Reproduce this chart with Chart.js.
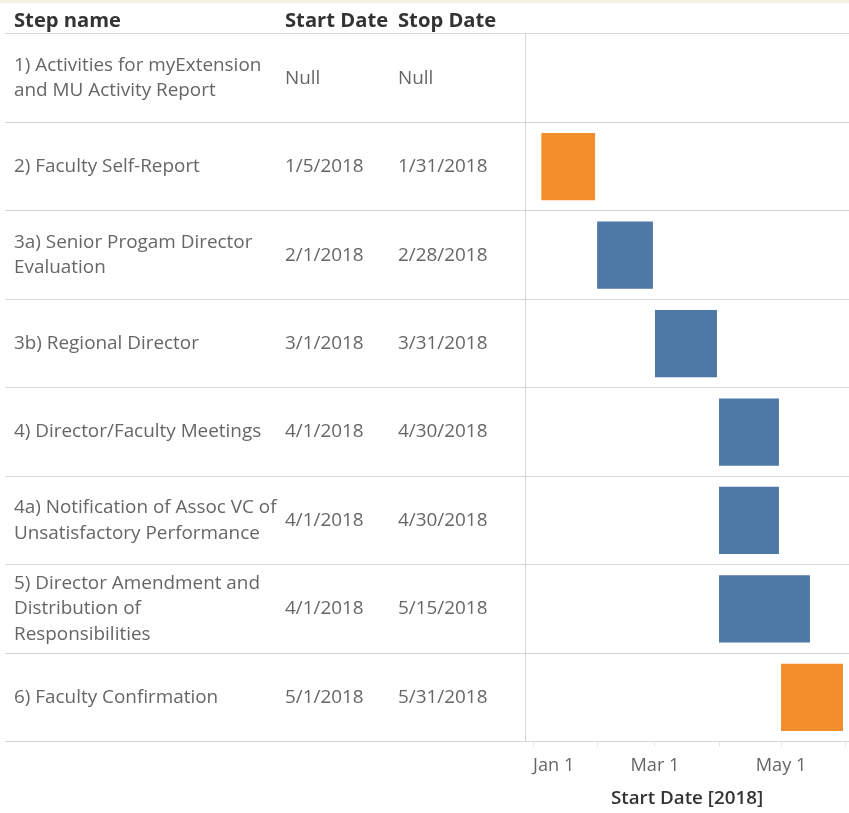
<!DOCTYPE html>
<html>
<head>
<meta charset="utf-8">
<script src="https://cdn.jsdelivr.net/npm/chart.js@4.4.0/dist/chart.umd.min.js"></script>
<style>
  html, body { margin: 0; padding: 0; background: #ffffff; }
  #wrap { position: relative; width: 849px; height: 813px; }
  #topstrip { position: absolute; left: 0; top: 0; width: 849px; height: 3px; background: #f7efe1; }
  canvas { display: block; }
</style>
</head>
<body>
<div id="wrap">
  <canvas id="c" width="849" height="813"></canvas>
  <div id="topstrip"></div>
</div>
<script>
// ---------------- DATA ----------------
const headers = ["Step name", "Start Date", "Stop Date"];

const stepNames = [
  ["1) Activities for myExtension", "and MU Activity Report"],
  "2) Faculty Self-Report",
  ["3a) Senior Progam Director", "Evaluation"],
  "3b) Regional Director",
  "4) Director/Faculty Meetings",
  ["4a) Notification of Assoc VC of", "Unsatisfactory Performance"],
  ["5) Director Amendment and", "Distribution of", "Responsibilities"],
  "6) Faculty Confirmation"
];

const startDates = ["Null", "1/5/2018", "2/1/2018", "3/1/2018", "4/1/2018", "4/1/2018", "4/1/2018", "5/1/2018"];
const stopDates  = ["Null", "1/31/2018", "2/28/2018", "3/31/2018", "4/30/2018", "4/30/2018", "5/15/2018", "5/31/2018"];

const stepOwner = ["", "Faculty", "Director", "Director", "Director", "Director", "Director", "Faculty"];

const xTickDates  = ["1/1/2018", "2/1/2018", "3/1/2018", "4/1/2018", "5/1/2018", "6/1/2018"];
const xTickLabels = ["Jan 1", "", "Mar 1", "", "May 1", ""];
const xAxisTitle  = "Start Date [2018]";

// ---------------- STYLE ----------------
const ownerColors = { Faculty: "#f28e2b", Director: "#4e79a7", "": "rgba(0,0,0,0)" };
const FAMILY = "'Open Sans', 'Noto Sans', sans-serif";
const gridColor = "#d6d6d6";

// helpers
function toDay(s) {
  if (!s || s === "Null") return null;
  const [m, d, y] = s.split("/").map(Number);
  return (Date.UTC(y, m - 1, d) - Date.UTC(2018, 0, 1)) / 86400000;
}
const mctx = document.createElement("canvas").getContext("2d");
function fitSize(text, target, weight) {
  mctx.font = weight + " 100px " + FAMILY;
  return Math.round(100 * target / mctx.measureText(text).width * 10) / 10;
}
const bodySize   = fitSize("2) Faculty Self-Report", 186, "normal");
const headSize   = fitSize("Step name", 107, "bold");
const tickSize   = fitSize("Mar 1", 49, "normal");
const titleSize  = fitSize(xAxisTitle, 152, "600");

const barData = startDates.map((s, i) => {
  const a = toDay(s), b = toDay(stopDates[i]);
  return (a === null || b === null) ? null : [a, b];
});

function fixedWidth(w) { return function (scale) { scale.width = w; }; }

function leftCategoryAxis(labels, width, weight, opts) {
  return Object.assign({
    type: "category",
    position: "left",
    labels: labels,
    offset: true,
    weight: weight,
    afterFit: fixedWidth(width),
    border: { display: false },
    grid: {
      offset: true,
      drawOnChartArea: false,
      drawTicks: true,
      tickLength: width,
      color: gridColor,
      lineWidth: 1
    },
    ticks: {
      autoSkip: false,
      crossAlign: "far",
      padding: 0,
      color: "#666666",
      font: { family: FAMILY, size: bodySize, lineHeight: "25.5px" }
    }
  }, opts || {});
}

const headerPlugin = {
  id: "headerPlugin",
  afterDraw(chart) {
    const ctx = chart.ctx;
    const top = chart.chartArea.top;
    const ids = ["y", "yStart", "yStop"];
    ctx.save();
    ctx.font = "bold " + headSize + "px " + FAMILY;
    ctx.fillStyle = "#333333";
    ctx.textAlign = "left";
    ctx.textBaseline = "alphabetic";
    ids.forEach((id, i) => {
      ctx.fillText(headers[i], chart.scales[id].left, top - 7);
    });
    ctx.restore();
  }
};

const yPadAxis = leftCategoryAxis(stepNames.map(() => ""), 9, 4);
yPadAxis.ticks = Object.assign({}, yPadAxis.ticks, { callback: () => "" });

const yMain = leftCategoryAxis(stepNames, 271, 3);
yMain.grid = Object.assign({}, yMain.grid, { drawOnChartArea: true });

const yStartAxis = leftCategoryAxis(startDates, 113, 2);
const yStopAxis = leftCategoryAxis(stopDates, 127, 1);
yStopAxis.border = { display: true, color: gridColor, width: 1 };

new Chart(document.getElementById("c"), {
  type: "bar",
  data: {
    labels: stepNames,
    datasets: [{
      data: barData,
      yAxisID: "y",
      xAxisID: "x",
      backgroundColor: stepOwner.map(o => ownerColors[o]),
      borderWidth: 0,
      barPercentage: 0.76,
      categoryPercentage: 1.0
    }]
  },
  options: {
    indexAxis: "y",
    responsive: false,
    animation: false,
    events: [],
    layout: { padding: { left: 5, right: 0, top: 34, bottom: 0 } },
    plugins: { legend: { display: false }, tooltip: { enabled: false } },
    scales: {
      x: {
        type: "linear",
        position: "bottom",
        min: -3.9,
        max: 152.9,
        afterBuildTicks(scale) {
          scale.ticks = xTickDates.map(d => ({ value: toDay(d) }));
        },
        afterFit(scale) {
          scale.paddingLeft = 0;
          scale.paddingRight = 0;
        },
        border: { display: false },
        grid: {
          drawOnChartArea: false,
          drawTicks: true,
          tickLength: 5,
          color: "#e6e6e6"
        },
        ticks: {
          autoSkip: false,
          maxRotation: 0,
          align: "inner",
          padding: 8,
          color: "#666666",
          font: { family: FAMILY, size: tickSize, lineHeight: 1.2 },
          callback: (v, i) => xTickLabels[i]
        },
        title: {
          display: true,
          text: xAxisTitle,
          color: "#333333",
          padding: { top: 3, bottom: 3 },
          font: { family: FAMILY, size: titleSize, weight: "600", lineHeight: 1.2 }
        }
      },
      yPad: yPadAxis,
      y: yMain,
      yStart: yStartAxis,
      yStop: yStopAxis
    }
  },
  plugins: [headerPlugin]
});
</script>
</body>
</html>
